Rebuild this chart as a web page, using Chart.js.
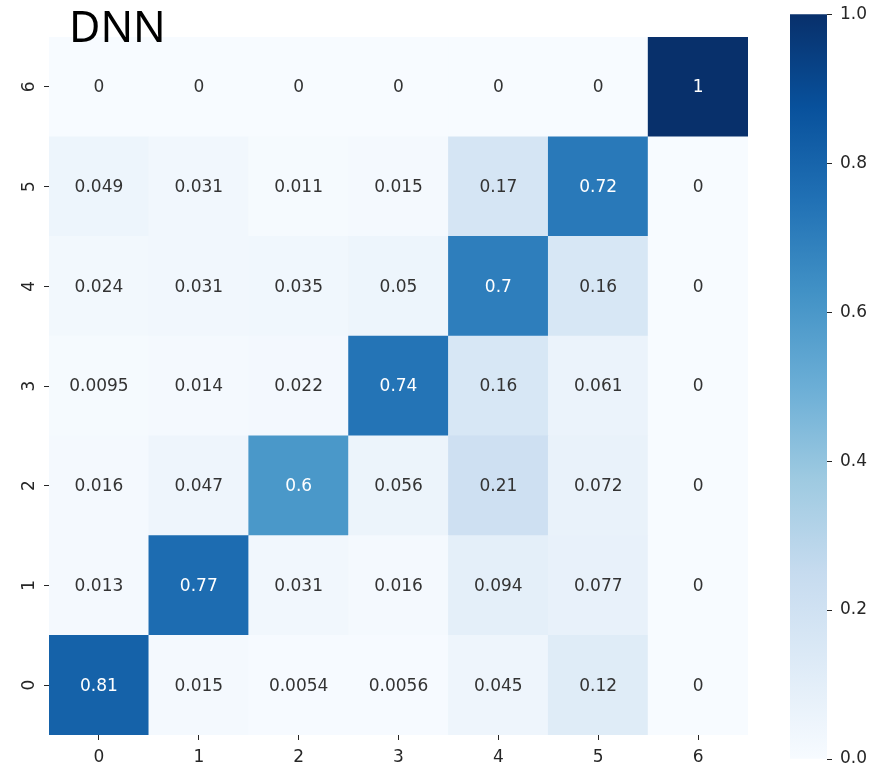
<!DOCTYPE html>
<html>
<head>
<meta charset="utf-8">
<script src="https://cdn.jsdelivr.net/npm/chart.js@4.4.1/dist/chart.umd.min.js"></script>
<style>
  html, body { margin: 0; padding: 0; background: #fff; overflow: hidden; }
  #wrap { position: relative; width: 883px; height: 767px; overflow: hidden; }
  #heat { position: absolute; left: 0; top: 0; }
  #cbar { position: absolute; left: 780px; top: -4px; }
  #title { position: absolute; left: 69px; top: -4px; font: 43px 'Noto Sans'; color: #000; }
</style>
</head>
<body>
<div id="wrap">
  <canvas id="heat" width="770" height="767"></canvas>
  <canvas id="cbar" width="103" height="800"></canvas>
  <div id="title">DNN</div>
</div>
<script>
// class names on both axes
const classes = ['0', '1', '2', '3', '4', '5', '6'];

// normalized confusion matrix, one array per true class (columns = predicted 0..6)
const row0 = [0.81, 0.015, 0.0054, 0.0056, 0.045, 0.12, 0];
const row1 = [0.013, 0.77, 0.031, 0.016, 0.094, 0.077, 0];
const row2 = [0.016, 0.047, 0.6, 0.056, 0.21, 0.072, 0];
const row3 = [0.0095, 0.014, 0.022, 0.74, 0.16, 0.061, 0];
const row4 = [0.024, 0.031, 0.035, 0.05, 0.7, 0.16, 0];
const row5 = [0.049, 0.031, 0.011, 0.015, 0.17, 0.72, 0];
const row6 = [0, 0, 0, 0, 0, 0, 1];
const rows = [row0, row1, row2, row3, row4, row5, row6];

// colorbar tick values
const cbarTicks = [0, 0.2, 0.4, 0.6, 0.8, 1.0];

// matplotlib "Blues"
const bluesStops = ['#f7fbff', '#deebf7', '#c6dbef', '#9ecae1', '#6baed6',
                    '#4292c6', '#2171b5', '#08519c', '#08306b'];
const TXT = '#262626';
const CELL_TXT = '#333333';
const FONT = { family: 'DejaVu Sans', size: 17 };

function hexToRgb(h) {
    return [1, 3, 5].map(i => parseInt(h.slice(i, i + 2), 16));
}

function bluesRgb(t) {
    t = Math.min(1, Math.max(0, t));
    const pos = t * (bluesStops.length - 1);
    const i = Math.min(Math.floor(pos), bluesStops.length - 2);
    const f = pos - i;
    const a = hexToRgb(bluesStops[i]), b = hexToRgb(bluesStops[i + 1]);
    return a.map((c, k) => Math.round(c + (b[k] - c) * f));
}

function blues(t) {
    const [r, g, b] = bluesRgb(t);
    return `rgb(${r},${g},${b})`;
}

// white text on dark cells, dark gray otherwise (same rule seaborn uses)
function textColor(v) {
    const lin = bluesRgb(v).map(c => {
        c /= 255;
        return c <= 0.03928 ? c / 12.92 : Math.pow((c + 0.055) / 1.055, 2.4);
    });
    const lum = 0.2126 * lin[0] + 0.7152 * lin[1] + 0.0722 * lin[2];
    return lum < 0.408 ? '#ffffff' : CELL_TXT;
}

function fmt(v) {
    return String(Number(v.toPrecision(2)));
}

const cellText = {
    id: 'cellText',
    afterDatasetsDraw(chart) {
        const ctx = chart.ctx;
        ctx.save();
        ctx.font = `${FONT.size}px "${FONT.family}"`;
        ctx.textAlign = 'center';
        ctx.textBaseline = 'middle';
        chart.data.datasets.forEach((ds, i) => {
            chart.getDatasetMeta(i).data.forEach((bar, j) => {
                const v = ds.values[j];
                ctx.fillStyle = textColor(v);
                ctx.fillText(fmt(v), bar.x, (bar.y + bar.base) / 2 + 1);
            });
        });
        ctx.restore();
    }
};

// one floating bar per cell, each row stacked at [r, r+1]
const datasets = rows.map((vals, r) => ({
    label: 'true ' + classes[r],
    data: vals.map(() => [r, r + 1]),
    values: vals,
    backgroundColor: vals.map(blues),
    borderWidth: 0,
    grouped: false,
    barPercentage: 1,
    categoryPercentage: 1
}));

new Chart(document.getElementById('heat'), {
    type: 'bar',
    data: { labels: classes, datasets: datasets },
    options: {
        responsive: false,
        animation: false,
        layout: { padding: { top: 37, right: 22, left: 0, bottom: 0 } },
        plugins: { legend: { display: false }, tooltip: { enabled: false } },
        scales: {
            x: {
                type: 'category',
                grid: { offset: false, drawOnChartArea: false, tickLength: 5, color: TXT },
                border: { display: false },
                ticks: { color: TXT, font: FONT, padding: 7 },
                afterFit: s => { s.height = 32; }
            },
            y: {
                type: 'linear',
                min: 0,
                max: classes.length,
                afterBuildTicks: s => { s.ticks = classes.map((c, i) => ({ value: i + 0.5 })); },
                grid: { drawOnChartArea: false, tickLength: 5, color: TXT },
                border: { display: false },
                ticks: {
                    color: TXT, font: FONT,
                    minRotation: 90, maxRotation: 90,
                    crossAlign: 'center', padding: 9,
                    callback: v => classes[Math.round(v - 0.5)]
                },
                afterFit: s => { s.width = 49; }
            }
        }
    },
    plugins: [cellText]
});

// colorbar: a single floating bar 0..1 filled with the colormap
function cbarFill(c) {
    const chart = c.chart;
    const y = chart.scales.y;
    if (!y || !chart.chartArea) return bluesStops[4];
    const g = chart.ctx.createLinearGradient(0, y.getPixelForValue(0), 0, y.getPixelForValue(1));
    bluesStops.forEach((col, i) => g.addColorStop(i / (bluesStops.length - 1), col));
    return g;
}

new Chart(document.getElementById('cbar'), {
    type: 'bar',
    data: { labels: [''], datasets: [{ data: [[0, 1]], backgroundColor: cbarFill, borderWidth: 0,
        barPercentage: 1, categoryPercentage: 1 }] },
    options: {
        responsive: false,
        animation: false,
        layout: { padding: { left: 10, top: 9, bottom: 37, right: 0 } },
        plugins: { legend: { display: false }, tooltip: { enabled: false } },
        scales: {
            x: { display: false },
            y: {
                position: 'right',
                min: 0, max: 1,
                afterBuildTicks: s => { s.ticks = cbarTicks.map(v => ({ value: v })); },
                grid: { drawOnChartArea: false, tickLength: 5, color: TXT },
                border: { display: false },
                ticks: { color: TXT, font: FONT, padding: 8, callback: v => v.toFixed(1) },
                afterFit: s => { s.width = 56; }
            }
        }
    }
});
</script>
</body>
</html>
